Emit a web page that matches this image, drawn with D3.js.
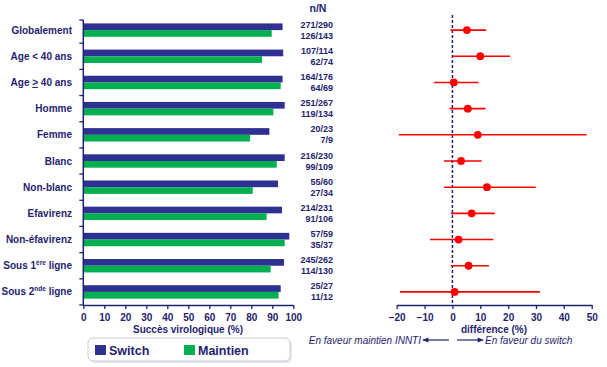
<!DOCTYPE html>
<html>
<head>
<meta charset="utf-8">
<script src="https://cdn.jsdelivr.net/npm/d3@7"></script>
<style>
  body { margin: 0; background: #fff; }
  svg { font-family: "Liberation Sans", Arial, sans-serif; }
</style>
</head>
<body>
<div id="chart"></div>
<script>
// categories (html labels handled below for superscripts)
var categories = ["Globalement", "Age < 40 ans", "Age > 40 ans", "Homme", "Femme", "Blanc",
  "Non-blanc", "Efavirenz", "Non-éfavirenz", "Sous 1ère ligne", "Sous 2nde ligne"];

// succès virologique (%)
var switchValues   = [94.9, 95.2, 94.9, 95.9, 88.6, 95.9, 92.7, 94.6, 98.1, 95.6, 94.0];
var maintienValues = [89.7, 85.1, 94.0, 90.5, 79.4, 92.1, 80.7, 87.3, 95.9, 89.2, 93.0];

// n/N
var nSwitch   = ["271/290", "107/114", "164/176", "251/267", "20/23", "216/230", "55/60", "214/231", "57/59", "245/262", "25/27"];
var nMaintien = ["126/143", "62/74", "64/69", "119/134", "7/9", "99/109", "27/34", "91/106", "35/37", "114/130", "11/12"];

// différence (%) and interval
var diff    = [5.2, 10.0, 0.5, 5.5, 9.1, 3.1, 12.4, 6.9, 2.2, 5.8, 0.8];
var ciLow   = [-0.7, 0.0, -6.6, -1.0, -19.2, -3.0, -3.0, -0.5, -8.0, -0.6, -18.8];
var ciHigh  = [12.1, 20.7, 9.4, 11.9, 48.2, 10.5, 29.9, 15.2, 14.7, 13.1, 31.4];

var barTicks = [0, 10, 20, 30, 40, 50, 60, 70, 80, 90, 100];
var diffTicks = [-20, -10, 0, 10, 20, 30, 40, 50];

var navy = "#1f2370";
var blue = "#2e3192";
var green = "#00b050";
var red = "#ff0000";

var svg = d3.select("#chart").append("svg")
  .attr("width", 607)
  .attr("height", 367);

var rows = categories.map(function(c, i) { return i; });

var y = d3.scaleBand()
  .domain(rows)
  .range([17, 305]);

// ---- left bar chart ----
var x = d3.scaleLinear().domain([0, 100]).range([83.3, 293.3]);

var inner = d3.scaleBand().domain(["s", "m"]).range([0, 13.4]);
var barOff = (y.bandwidth() - 13.4) / 2;

svg.append("g").selectAll("rect.sw")
  .data(rows).enter().append("rect")
  .attr("x", x(0))
  .attr("y", d => y(d) + barOff + inner("s"))
  .attr("width", d => x(switchValues[d]) - x(0))
  .attr("height", inner.bandwidth())
  .attr("fill", blue);

svg.append("g").selectAll("rect.mt")
  .data(rows).enter().append("rect")
  .attr("x", x(0))
  .attr("y", d => y(d) + barOff + inner("m"))
  .attr("width", d => x(maintienValues[d]) - x(0))
  .attr("height", inner.bandwidth())
  .attr("fill", green);

// x axis
var xAxis = svg.append("g")
  .attr("transform", "translate(0,305)")
  .call(d3.axisBottom(x).tickValues(barTicks).tickSize(4).tickSizeOuter(0));
xAxis.select(".domain").attr("stroke", navy).attr("stroke-width", 1.5);
xAxis.selectAll(".tick line").attr("stroke", navy).attr("stroke-width", 1.3);
xAxis.selectAll(".tick text").attr("fill", navy).attr("font-size", 10).attr("font-weight", "bold").attr("dy", "0.85em");

// y axis with ticks between categories
svg.append("line")
  .attr("x1", x(0)).attr("x2", x(0))
  .attr("y1", 20).attr("y2", 305)
  .attr("stroke", navy).attr("stroke-width", 1.5);
var bounds = rows.map(d => Math.max(y(d), 20)).concat([305]);
svg.append("g").selectAll("line")
  .data(bounds).enter().append("line")
  .attr("x1", x(0) - 4).attr("x2", x(0))
  .attr("y1", d => d).attr("y2", d => d)
  .attr("stroke", navy).attr("stroke-width", 1.3);

// category labels
var catText = svg.append("g").selectAll("text")
  .data(rows).enter().append("text")
  .attr("x", 72)
  .attr("y", d => y(d) + y.bandwidth() / 2)
  .attr("dy", "0.35em")
  .attr("text-anchor", "end")
  .attr("font-size", 10)
  .attr("font-weight", "bold")
  .attr("fill", navy);

catText.each(function(d) {
  var t = d3.select(this);
  var c = categories[d];
  if (d === 2) {
    t.append("tspan").text("Age ");
    t.append("tspan").attr("text-decoration", "underline").text(">");
    t.append("tspan").text(" 40 ans");
  } else if (d === 9 || d === 10) {
    var sup = d === 9 ? "ère" : "nde";
    var num = d === 9 ? "1" : "2";
    t.append("tspan").text("Sous " + num);
    t.append("tspan").attr("font-size", 6.5).attr("dy", "-0.7em").text(sup);
    t.append("tspan").attr("dy", "0.45em").text(" ligne");
  } else {
    t.text(c);
  }
});

svg.append("text")
  .attr("x", 188).attr("y", 333)
  .attr("text-anchor", "middle")
  .attr("font-size", 10).attr("font-weight", "bold")
  .attr("fill", navy)
  .text("Succès virologique (%)");

// legend
svg.append("rect")
  .attr("x", 90).attr("y", 340).attr("width", 202).attr("height", 23)
  .attr("rx", 5).attr("fill", "#e6e6ee");
svg.append("rect")
  .attr("x", 88).attr("y", 338).attr("width", 202).attr("height", 23)
  .attr("rx", 5).attr("fill", "#fff").attr("stroke", "#c9c9d6");

var legendItems = [{ name: "Switch", color: blue, x: 95 }, { name: "Maintien", color: green, x: 184 }];
var lg = svg.append("g").selectAll("g")
  .data(legendItems).enter().append("g")
  .attr("transform", d => `translate(${d.x},345)`);
lg.append("rect").attr("width", 11).attr("height", 10).attr("fill", d => d.color);
lg.append("text")
  .attr("x", 14).attr("y", 5).attr("dy", "0.36em")
  .attr("font-size", 12.5).attr("font-weight", "bold").attr("fill", navy)
  .text(d => d.name);

// ---- n/N column ----
svg.append("text")
  .attr("x", 318).attr("y", 12)
  .attr("text-anchor", "middle")
  .attr("font-size", 10.5).attr("font-weight", "bold").attr("fill", navy)
  .text("n/N");

var nGroup = svg.append("g").selectAll("g")
  .data(rows).enter().append("g");
nGroup.append("text")
  .attr("x", 333).attr("y", d => y(d) + y.bandwidth() / 2 - 5.6)
  .attr("dy", "0.35em").attr("text-anchor", "end")
  .attr("font-size", 9).attr("font-weight", "bold").attr("fill", navy)
  .text(d => nSwitch[d]);
nGroup.append("text")
  .attr("x", 333).attr("y", d => y(d) + y.bandwidth() / 2 + 5.4)
  .attr("dy", "0.35em").attr("text-anchor", "end")
  .attr("font-size", 9).attr("font-weight", "bold").attr("fill", navy)
  .text(d => nMaintien[d]);

// ---- forest plot ----
var xd = d3.scaleLinear().domain([-20, 50]).range([396.7, 591.7]);

var dAxis = svg.append("g")
  .attr("transform", "translate(0,305)")
  .call(d3.axisBottom(xd).tickValues(diffTicks).tickSize(4).tickSizeOuter(0));
dAxis.select(".domain").attr("stroke", navy).attr("stroke-width", 1.5);
dAxis.selectAll(".tick line").attr("stroke", navy).attr("stroke-width", 1.3);
dAxis.selectAll(".tick text").attr("fill", navy).attr("font-size", 10).attr("font-weight", "bold").attr("dy", "0.85em");

svg.append("line")
  .attr("x1", xd(0)).attr("x2", xd(0))
  .attr("y1", 15).attr("y2", 305)
  .attr("stroke", navy).attr("stroke-width", 1.5)
  .attr("stroke-dasharray", "3,2");

var cy = d => y(d) + y.bandwidth() / 2;

svg.append("g").selectAll("line")
  .data(rows).enter().append("line")
  .attr("x1", d => xd(ciLow[d])).attr("x2", d => xd(ciHigh[d]))
  .attr("y1", cy).attr("y2", cy)
  .attr("stroke", red).attr("stroke-width", 1.6);

svg.append("g").selectAll("circle")
  .data(rows).enter().append("circle")
  .attr("cx", d => xd(diff[d]))
  .attr("cy", cy)
  .attr("r", 3.9)
  .attr("fill", red);

svg.append("text")
  .attr("x", 494).attr("y", 333)
  .attr("text-anchor", "middle")
  .attr("font-size", 10).attr("font-weight", "bold").attr("fill", navy)
  .text("différence (%)");

// direction arrows
svg.append("defs").append("marker")
  .attr("id", "arr")
  .attr("viewBox", "0 0 10 10")
  .attr("refX", 9).attr("refY", 5)
  .attr("markerWidth", 6).attr("markerHeight", 5)
  .attr("orient", "auto")
  .append("path").attr("d", "M0,1 L10,5 L0,9 Z").attr("fill", navy);

svg.append("line")
  .attr("x1", 449).attr("x2", 423).attr("y1", 340).attr("y2", 340)
  .attr("stroke", navy).attr("stroke-width", 1.2).attr("marker-end", "url(#arr)");
svg.append("line")
  .attr("x1", 457).attr("x2", 483).attr("y1", 340).attr("y2", 340)
  .attr("stroke", navy).attr("stroke-width", 1.2).attr("marker-end", "url(#arr)");

svg.append("text")
  .attr("x", 421).attr("y", 340).attr("dy", "0.35em")
  .attr("text-anchor", "end")
  .attr("font-size", 10).attr("font-style", "italic").attr("fill", navy)
  .text("En faveur maintien INNTI");
svg.append("text")
  .attr("x", 485).attr("y", 340).attr("dy", "0.35em")
  .attr("font-size", 10).attr("font-style", "italic").attr("fill", navy)
  .text("En faveur du switch");
</script>
</body>
</html>
